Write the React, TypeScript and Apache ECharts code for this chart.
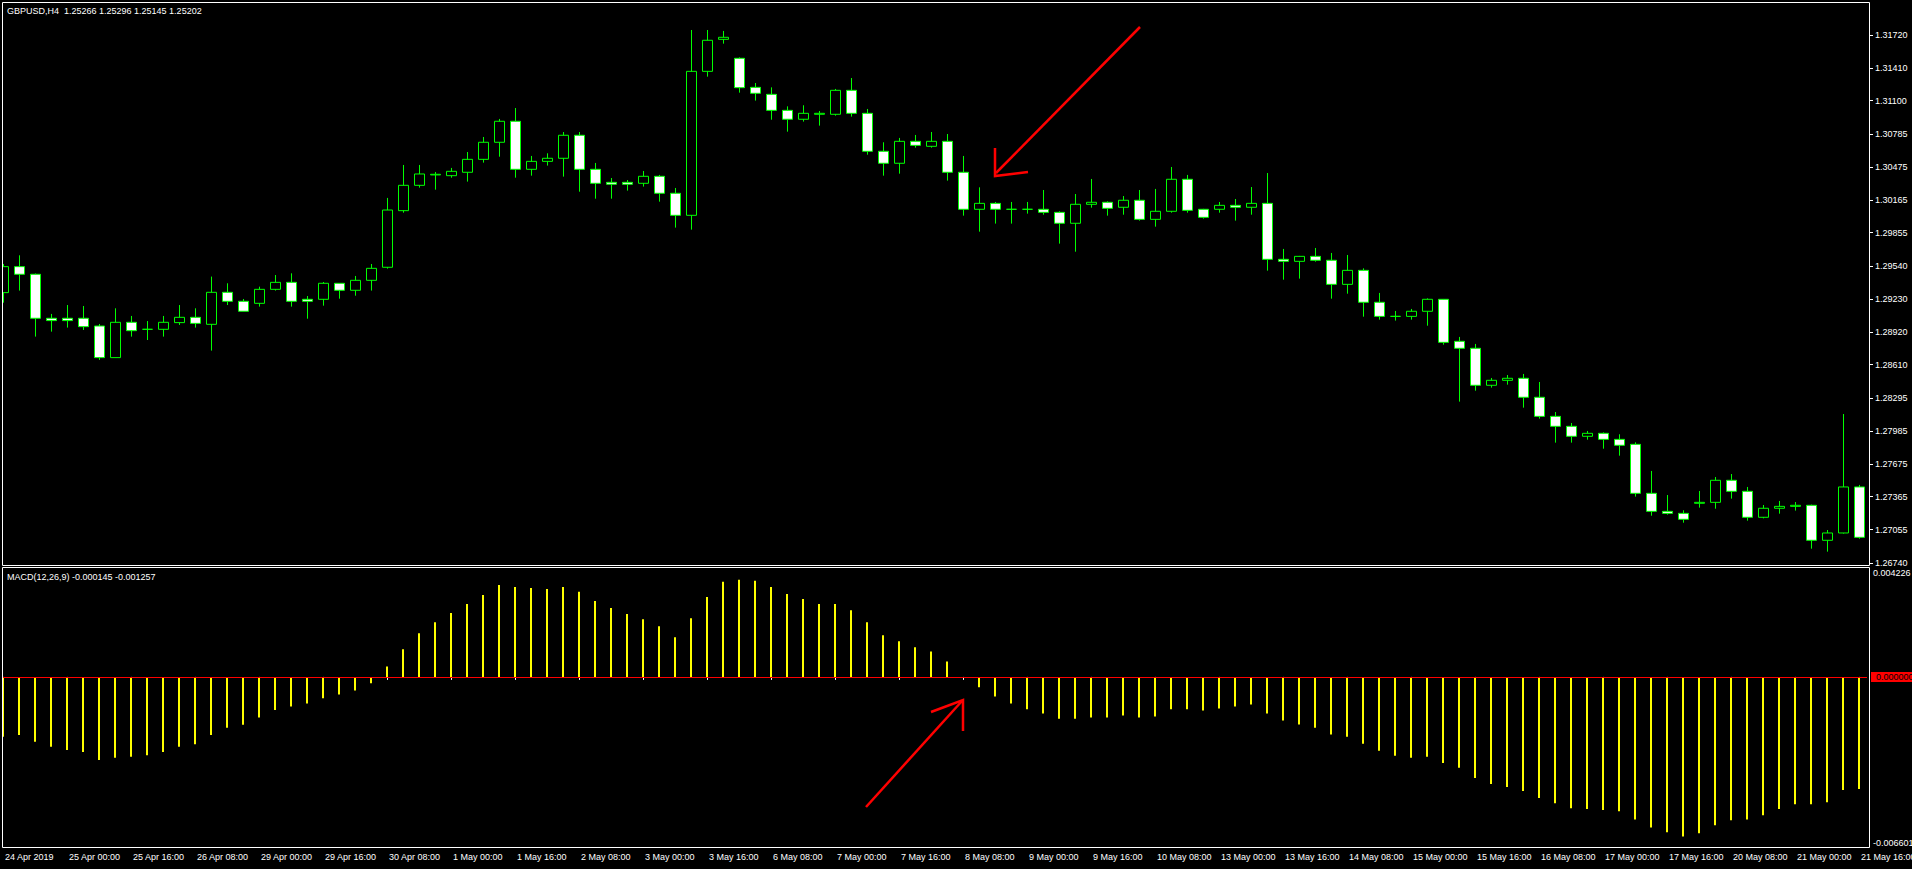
import React, { useEffect, useRef } from "react";
import * as echarts from "echarts";

// ---- categories (H4 bars) ----
const tradingDays = ["24 Apr", "25 Apr", "26 Apr", "29 Apr", "30 Apr", "1 May", "2 May", "3 May", "6 May", "7 May", "8 May", "9 May", "10 May", "13 May", "14 May", "15 May", "16 May", "17 May", "20 May", "21 May"];
const barHours = ["00:00", "04:00", "08:00", "12:00", "16:00", "20:00"];

const xTickLabels = ["24 Apr 2019", "25 Apr 00:00", "25 Apr 16:00", "26 Apr 08:00", "29 Apr 00:00", "29 Apr 16:00", "30 Apr 08:00", "1 May 00:00", "1 May 16:00", "2 May 08:00", "3 May 00:00", "3 May 16:00", "6 May 08:00", "7 May 00:00", "7 May 16:00", "8 May 08:00", "9 May 00:00", "9 May 16:00", "10 May 08:00", "13 May 00:00", "13 May 16:00", "14 May 08:00", "15 May 00:00", "15 May 16:00", "16 May 08:00", "17 May 00:00", "17 May 16:00", "20 May 08:00", "21 May 00:00", "21 May 16:00"];

const priceTickLabels = ["1.31720", "1.31410", "1.31100", "1.30785", "1.30475", "1.30165", "1.29855", "1.29540", "1.29230", "1.28920", "1.28610", "1.28295", "1.27985", "1.27675", "1.27365", "1.27055", "1.26740"];
const macdScaleLabels = ["0.004226", "-0.006601"];
const macdLevel = "0.000000";

const titleText = "GBPUSD,H4  1.25266 1.25296 1.25145 1.25202";
const macdTitle = "MACD(12,26,9) -0.000145 -0.001257";

// ---- OHLC ----
const open = [1.29290, 1.29535, 1.29463, 1.29048, 1.29048, 1.29048, 1.28975, 1.28677, 1.29010, 1.28944, 1.28944, 1.29007, 1.29057, 1.28991, 1.29293, 1.29208, 1.29189, 1.29321, 1.29387, 1.29227, 1.29227, 1.29378, 1.29312, 1.29406, 1.29529, 1.30063, 1.30302, 1.30400, 1.30393, 1.30425,
  1.30547, 1.30708, 1.30906, 1.30453, 1.30528, 1.30557, 1.30774, 1.30453, 1.30330, 1.30330, 1.30321, 1.30387, 1.30227, 1.30019, 1.31377, 1.31679, 1.31500, 1.31226, 1.31160, 1.31009, 1.30925, 1.30972, 1.30972, 1.31198, 1.30981, 1.30623, 1.30510, 1.30717, 1.30670, 1.30717,
  1.30425, 1.30076, 1.30132, 1.30076, 1.30076, 1.30076, 1.30047, 1.29944, 1.30123, 1.30142, 1.30095, 1.30161, 1.29981, 1.30057, 1.30359, 1.30076, 1.30076, 1.30113, 1.30095, 1.30132, 1.29604, 1.29585, 1.29632, 1.29595, 1.29368, 1.29500, 1.29199, 1.29066, 1.29066, 1.29114,
  1.29227, 1.28831, 1.28765, 1.28416, 1.28463, 1.28482, 1.28303, 1.28123, 1.28029, 1.27935, 1.27963, 1.27906, 1.27859, 1.27397, 1.27227, 1.27208, 1.27303, 1.27312, 1.27520, 1.27416, 1.27171, 1.27256, 1.27274, 1.27284, 1.26954, 1.27023, 1.27457];
const close = [1.29535, 1.29463, 1.29048, 1.29026, 1.29026, 1.28969, 1.28677, 1.29010, 1.28931, 1.28944, 1.29010, 1.29057, 1.29000, 1.29293, 1.29208, 1.29114, 1.29321, 1.29387, 1.29208, 1.29208, 1.29378, 1.29312, 1.29406, 1.29519, 1.30069, 1.30302, 1.30409, 1.30406, 1.30434, 1.30547,
  1.30708, 1.30906, 1.30453, 1.30528, 1.30557, 1.30774, 1.30453, 1.30321, 1.30312, 1.30312, 1.30387, 1.30227, 1.30019, 1.31377, 1.31670, 1.31698, 1.31223, 1.31170, 1.31009, 1.30925, 1.30981, 1.30981, 1.31198, 1.30981, 1.30623, 1.30510, 1.30717, 1.30679, 1.30717, 1.30425,
  1.30076, 1.30132, 1.30076, 1.30076, 1.30076, 1.30047, 1.29944, 1.30123, 1.30142, 1.30085, 1.30161, 1.29981, 1.30057, 1.30359, 1.30066, 1.30000, 1.30113, 1.30095, 1.30132, 1.29604, 1.29585, 1.29632, 1.29595, 1.29368, 1.29500, 1.29199, 1.29066, 1.29066, 1.29114, 1.29227,
  1.28821, 1.28765, 1.28416, 1.28463, 1.28482, 1.28303, 1.28123, 1.28029, 1.27935, 1.27963, 1.27906, 1.27850, 1.27397, 1.27227, 1.27208, 1.27152, 1.27312, 1.27520, 1.27416, 1.27171, 1.27256, 1.27274, 1.27284, 1.26954, 1.27023, 1.27457, 1.26982];
const low = [1.29195, 1.29309, 1.28875, 1.28922, 1.28960, 1.28938, 1.28655, 1.28677, 1.28875, 1.28843, 1.28875, 1.28985, 1.28960, 1.28743, 1.29173, 1.29114, 1.29158, 1.29309, 1.29158, 1.29044, 1.29167, 1.29233, 1.29261, 1.29309, 1.29516, 1.30044, 1.30280, 1.30261, 1.30374, 1.30337,
  1.30516, 1.30572, 1.30374, 1.30393, 1.30488, 1.30384, 1.30242, 1.30176, 1.30176, 1.30252, 1.30290, 1.30148, 1.29903, 1.29884, 1.31327, 1.31638, 1.31176, 1.31101, 1.30921, 1.30808, 1.30903, 1.30865, 1.30959, 1.30950, 1.30591, 1.30393, 1.30412, 1.30657, 1.30657, 1.30346,
  1.30016, 1.29865, 1.29941, 1.29941, 1.30035, 1.30025, 1.29752, 1.29676, 1.30091, 1.30016, 1.30025, 1.29969, 1.29912, 1.30044, 1.30044, 1.29988, 1.30044, 1.29969, 1.30025, 1.29497, 1.29412, 1.29422, 1.29582, 1.29233, 1.29280, 1.29063, 1.29035, 1.29026, 1.29035, 1.28978,
  1.28799, 1.28262, 1.28365, 1.28394, 1.28422, 1.28205, 1.28101, 1.27875, 1.27875, 1.27903, 1.27818, 1.27752, 1.27366, 1.27186, 1.27196, 1.27120, 1.27262, 1.27252, 1.27347, 1.27139, 1.27161, 1.27205, 1.27234, 1.26875, 1.26847, 1.27017, 1.26969];
const high = [1.29560, 1.29642, 1.29470, 1.29089, 1.29173, 1.29164, 1.28994, 1.29142, 1.29070, 1.29022, 1.29070, 1.29173, 1.29142, 1.29441, 1.29378, 1.29230, 1.29346, 1.29456, 1.29472, 1.29258, 1.29390, 1.29380, 1.29447, 1.29560, 1.30183, 1.30494, 1.30494, 1.30428, 1.30466, 1.30616,
  1.30758, 1.30928, 1.31031, 1.30579, 1.30604, 1.30805, 1.30805, 1.30513, 1.30371, 1.30352, 1.30437, 1.30400, 1.30277, 1.31767, 1.31767, 1.31758, 1.31509, 1.31267, 1.31226, 1.31047, 1.31057, 1.31003, 1.31211, 1.31314, 1.31022, 1.30708, 1.30749, 1.30777, 1.30805, 1.30786,
  1.30579, 1.30283, 1.30145, 1.30145, 1.30145, 1.30258, 1.30057, 1.30220, 1.30362, 1.30151, 1.30201, 1.30258, 1.30268, 1.30475, 1.30400, 1.30080, 1.30145, 1.30173, 1.30286, 1.30418, 1.29702, 1.29636, 1.29711, 1.29664, 1.29645, 1.29519, 1.29287, 1.29117, 1.29136, 1.29236,
  1.29230, 1.28872, 1.28806, 1.28485, 1.28513, 1.28523, 1.28447, 1.28164, 1.28060, 1.27985, 1.27972, 1.27954, 1.27878, 1.27608, 1.27381, 1.27237, 1.27419, 1.27551, 1.27579, 1.27457, 1.27287, 1.27325, 1.27315, 1.27290, 1.27051, 1.28145, 1.27476];

// ---- MACD(12,26,9) main line histogram ----
const macd = [-0.00232, -0.00225, -0.00252, -0.00271, -0.00284, -0.00291, -0.00322, -0.00314, -0.00310, -0.00304, -0.00291, -0.00271, -0.00261, -0.00225, -0.00197, -0.00186, -0.00158, -0.00128, -0.00115, -0.00103, -0.00083, -0.00068, -0.00053, -0.00025, 0.00040, 0.00107, 0.00169, 0.00212, 0.00248, 0.00283,
  0.00318, 0.00357, 0.00349, 0.00345, 0.00341, 0.00349, 0.00330, 0.00295, 0.00267, 0.00244, 0.00224, 0.00197, 0.00154, 0.00228, 0.00310, 0.00369, 0.00377, 0.00373, 0.00349, 0.00322, 0.00302, 0.00283, 0.00283, 0.00259, 0.00212, 0.00162, 0.00138, 0.00115, 0.00099, 0.00060,
  -0.00004, -0.00040, -0.00076, -0.00103, -0.00126, -0.00142, -0.00162, -0.00162, -0.00158, -0.00158, -0.00150, -0.00158, -0.00154, -0.00126, -0.00126, -0.00130, -0.00123, -0.00115, -0.00107, -0.00142, -0.00169, -0.00185, -0.00197, -0.00224, -0.00232, -0.00259, -0.00287, -0.00306, -0.00314, -0.00310,
  -0.00334, -0.00353, -0.00392, -0.00416, -0.00427, -0.00443, -0.00470, -0.00490, -0.00510, -0.00513, -0.00517, -0.00521, -0.00553, -0.00584, -0.00603, -0.00619, -0.00607, -0.00576, -0.00556, -0.00553, -0.00537, -0.00513, -0.00494, -0.00494, -0.00486, -0.00439, -0.00435];

// ---- build library inputs ----
const categories: string[] = [];
tradingDays.forEach((d, di) =>
  barHours.forEach((h, hi) => {
    if (di === 0 && hi < 2) return;
    if (di === tradingDays.length - 1 && hi > 4) return;
    categories.push(`${d} ${h}`);
  })
);
const candleData = open.map((o, i) => [o, close[i], low[i], high[i]]);
const priceTicks = priceTickLabels.map(Number);
const MACD_MAX = Number(macdScaleLabels[0]);
const MACD_MIN = Number(macdScaleLabels[1]);
const PRICE_MIN = 1.26721;
const PRICE_MAX = 1.32031;

const WHITE = "#ffffff";
const LIME = "#00ff00";
const FONT = "Liberation Sans";
const FS = 9;

const macdAxisBase = (extra: any) => ({
  type: "value",
  gridIndex: 1,
  position: "right",
  offset: 3,
  min: MACD_MIN,
  max: MACD_MAX,
  axisLine: { show: false },
  splitLine: { show: false },
  axisTick: { show: false },
  ...extra,
});

const option: any = {
  animation: false,
  backgroundColor: "#000000",
  textStyle: { fontFamily: FONT },
  grid: [
    { left: -4.5, top: 2, width: 1872, height: 563, outerBoundsMode: "none" },
    { left: -5, top: 568, width: 1872, height: 279, outerBoundsMode: "none" },
  ],
  xAxis: [
    { type: "category", gridIndex: 0, data: categories, boundaryGap: true, show: false },
    {
      type: "category",
      gridIndex: 1,
      data: categories,
      boundaryGap: true,
      axisLine: { show: false },
      splitLine: { show: false },
      axisTick: { show: true, alignWithLabel: true, interval: 3, length: 3, lineStyle: { color: WHITE, width: 1 } },
      axisLabel: {
        interval: 3,
        color: WHITE,
        fontSize: FS,
        fontFamily: FONT,
        align: "left",
        margin: 5,
        padding: [0, 0, 0, 2],
        hideOverlap: false,
        formatter: (_v: string, i: number) => xTickLabels[i / 4] ?? "",
      },
    },
  ],
  yAxis: [
    {
      type: "value",
      gridIndex: 0,
      position: "right",
      offset: 2.5,
      min: PRICE_MIN,
      max: PRICE_MAX,
      axisLine: { show: false },
      splitLine: { show: false },
      axisTick: { show: true, length: 3, lineStyle: { color: WHITE }, customValues: priceTicks },
      axisLabel: {
        color: WHITE,
        fontSize: FS,
        fontFamily: FONT,
        margin: 5,
        customValues: priceTicks,
        formatter: (v: number) => v.toFixed(5),
      },
    },
    macdAxisBase({
      axisLabel: { color: WHITE, fontSize: FS, fontFamily: FONT, margin: 3, verticalAlign: "top", customValues: [MACD_MAX], formatter: (v: number) => v.toFixed(6) },
    }),
    macdAxisBase({
      axisLabel: { color: WHITE, fontSize: FS, fontFamily: FONT, margin: 3, verticalAlign: "bottom", customValues: [MACD_MIN], formatter: (v: number) => v.toFixed(6) },
    }),
    macdAxisBase({
      axisLabel: {
        color: "#000000",
        fontSize: FS,
        fontFamily: FONT,
        margin: 1,
        lineHeight: 10,
        backgroundColor: "#ff0000",
        padding: [0, 8, 0, 5],
        customValues: [Number(macdLevel)],
        formatter: () => macdLevel,
      },
    }),
  ],
  series: [
    {
      type: "candlestick",
      xAxisIndex: 0,
      yAxisIndex: 0,
      data: candleData,
      barWidth: 10,
      itemStyle: {
        color: "#000000",
        color0: "#ffffff",
        borderColor: LIME,
        borderColor0: LIME,
        borderColorDoji: LIME,
        borderWidth: 1,
      },
    },
    {
      type: "bar",
      xAxisIndex: 1,
      yAxisIndex: 1,
      data: macd,
      barWidth: 2,
      itemStyle: { color: "#ffff00" },
      markLine: {
        silent: true,
        symbol: "none",
        label: { show: false },
        lineStyle: { color: "#ff0000", width: 1, type: "solid" },
        data: [{ yAxis: 0 }],
      },
    },
  ],
  graphic: [
    { type: "rect", z: 100, shape: { x: 0, y: 0, width: 2, height: 869 }, style: { fill: "#000000" } },
    { type: "rect", z: 101, shape: { x: 2.5, y: 2.5, width: 1867, height: 563 }, style: { fill: "none", stroke: WHITE, lineWidth: 1 } },
    { type: "rect", z: 101, shape: { x: 2.5, y: 567.5, width: 1867, height: 280 }, style: { fill: "none", stroke: WHITE, lineWidth: 1 } },
    { type: "text", z: 102, x: 7, y: 11, style: { text: titleText, fill: WHITE, fontSize: FS, fontFamily: FONT, verticalAlign: "middle" } },
    { type: "text", z: 102, x: 7, y: 577, style: { text: macdTitle, fill: WHITE, fontSize: FS, fontFamily: FONT, verticalAlign: "middle" } },
    // annotation arrow 1 (price panel)
    { type: "polyline", z: 103, shape: { points: [[1140, 27], [996, 173]] }, style: { stroke: "#ff0000", lineWidth: 2.5, fill: null } },
    { type: "polyline", z: 103, shape: { points: [[995, 148], [995, 176], [1028, 172]] }, style: { stroke: "#ff0000", lineWidth: 2.5, fill: null } },
    // annotation arrow 2 (MACD panel)
    { type: "polyline", z: 103, shape: { points: [[866, 807], [962, 701]] }, style: { stroke: "#ff0000", lineWidth: 2.5, fill: null } },
    { type: "polyline", z: 103, shape: { points: [[931, 712], [963, 700], [963, 731]] }, style: { stroke: "#ff0000", lineWidth: 2.5, fill: null } },
  ],
};

export default function App() {
  const ref = useRef<HTMLDivElement>(null);
  useEffect(() => {
    document.body.style.margin = "0";
    document.body.style.background = "#000000";
    const chart = echarts.init(ref.current!, null, { renderer: "svg" });
    chart.setOption(option);
    return () => chart.dispose();
  }, []);
  return (
    <div
      ref={ref}
      style={{ position: "fixed", left: 0, top: 0, width: 1912, height: 869, background: "#000000" }}
    />
  );
}
